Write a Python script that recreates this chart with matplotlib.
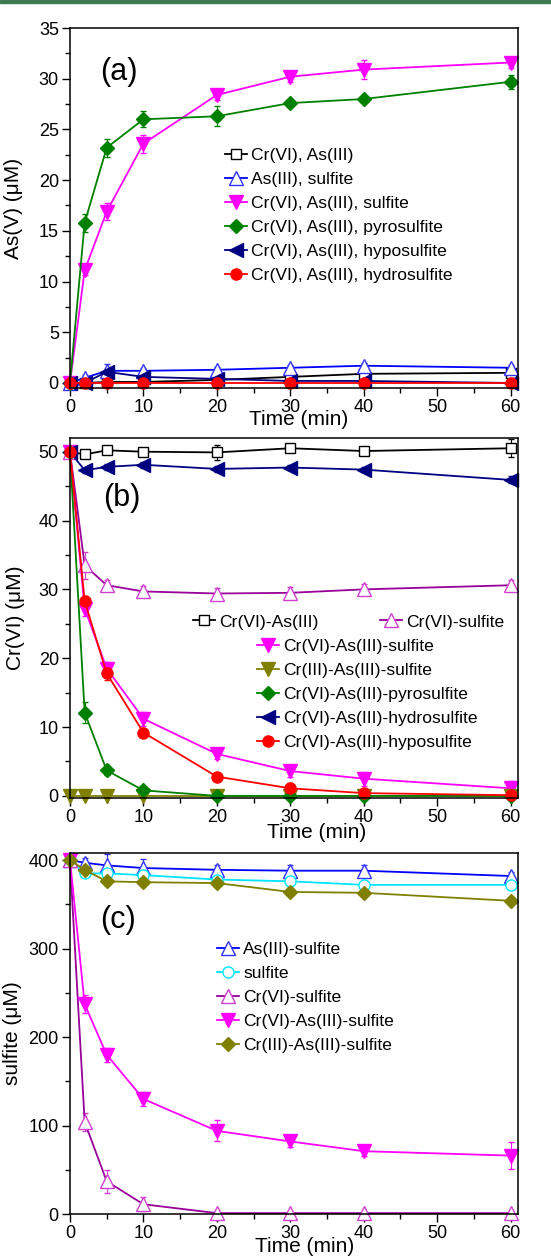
"""
Three stacked panels: As(V), Cr(VI) and sulfite vs time
"""

import numpy as np
import matplotlib.pyplot as plt
from matplotlib.patches import Rectangle
from matplotlib.ticker import MultipleLocator

plt.rcParams['font.family'] = ['Liberation Sans', 'DejaVu Sans']

t = [0, 2, 5, 10, 20, 30, 40, 60]

# panel (a): As(V) (uM)
a_labels = ['Cr(VI), As(III)', 'As(III), sulfite', 'Cr(VI), As(III), sulfite',
            'Cr(VI), As(III), pyrosulfite', 'Cr(VI), As(III), hyposulfite',
            'Cr(VI), As(III), hydrosulfite']
a_vals = [[0, 0, 0.1, 0.1, 0.3, 0.6, 0.9, 1.0],
          [0, 0.5, 1.2, 1.2, 1.3, 1.5, 1.7, 1.5],
          [0, 11.1, 16.9, 23.6, 28.4, 30.2, 30.9, 31.6],
          [0, 15.8, 23.2, 26.0, 26.3, 27.6, 28.0, 29.7],
          [0, 0, 1.1, 0.6, 0.4, 0.2, 0.2, 0.0],
          [0, 0, 0, 0, 0, 0, 0, 0]]
a_errs = [[0, 0.1, 0.2, 0.2, 0.3, 0.3, 0.4, 0.3],
          [0, 0.3, 0.7, 0.3, 0.3, 0.3, 0.3, 0.3],
          [0, 0.5, 0.8, 0.9, 0.5, 0.5, 0.9, 0.5],
          [0, 0.9, 0.9, 0.8, 1.0, 0.4, 0.4, 0.7],
          [0, 0.2, 0.3, 0.2, 0.2, 0.2, 0.2, 0.2],
          [0, 0, 0, 0, 0, 0, 0, 0]]

# panel (b): Cr(VI) (uM)
b_labels = ['Cr(VI)-As(III)', 'Cr(VI)-sulfite', 'Cr(VI)-As(III)-sulfite',
            'Cr(III)-As(III)-sulfite', 'Cr(VI)-As(III)-pyrosulfite',
            'Cr(VI)-As(III)-hydrosulfite', 'Cr(VI)-As(III)-hyposulfite']
b_vals = [[50, 49.6, 50.2, 50.0, 49.9, 50.5, 50.1, 50.5],
          [50, 33.5, 30.6, 29.7, 29.4, 29.5, 30.0, 30.6],
          [50, 27.2, 18.5, 11.2, 6.1, 3.6, 2.5, 1.1],
          [0, 0, 0, 0, 0, 0, 0, 0],
          [50, 12.1, 3.7, 0.8, 0, 0, 0, 0],
          [50, 47.3, 47.8, 48.1, 47.5, 47.7, 47.4, 45.9],
          [50, 28.3, 17.8, 9.2, 2.8, 1.1, 0.4, 0.1]]
b_errs = [[0, 0.5, 0.5, 0.5, 1.1, 0.5, 0.5, 1.3],
          [0, 2.0, 0.7, 0.8, 0.8, 0.8, 0.8, 0.8],
          [0, 1.0, 1.0, 1.0, 0.7, 0.9, 1.0, 1.0],
          [0, 0, 0, 0, 0, 0, 0, 0],
          [0, 1.5, 0.7, 0.5, 0, 0, 0, 0],
          [0, 0.4, 0.4, 0.4, 0.4, 0.4, 0.4, 0.5],
          [0, 0.7, 0.9, 0.5, 0.5, 0.8, 0.3, 0.2]]

# panel (c): sulfite (uM)
c_labels = ['As(III)-sulfite', 'sulfite', 'Cr(VI)-sulfite',
            'Cr(VI)-As(III)-sulfite', 'Cr(III)-As(III)-sulfite']
c_vals = [[400, 397, 394, 391, 389, 388, 388, 382],
          [400, 385, 385, 383, 378, 376, 372, 372],
          [400, 104, 37, 11, 1, 1, 1, 1],
          [400, 237, 180, 130, 94, 82, 71, 66],
          [400, 389, 376, 375, 374, 364, 363, 354]]
c_errs = [[0, 5, 13, 10, 5, 6, 7, 5],
          [0, 4, 5, 6, 5, 5, 5, 5],
          [0, 10, 13, 8, 1, 1, 1, 1],
          [0, 10, 8, 8, 12, 6, 6, 15],
          [0, 4, 4, 4, 4, 4, 4, 4]]

# (line colour, marker, marker face, marker edge, size)
STY = {
    'black_sq': ('k', 's', 'white', 'k', 7.5),
    'blue_tri': ('#0000ff', '^', 'white', '#3333ff', 9.5),
    'mag_down': ('#ff00ff', 'v', '#ff00ff', '#ff00ff', 9.5),
    'green_d': ('#008000', 'D', '#008000', '#008000', 7),
    'navy_l': ('#000080', '<', '#000080', '#000080', 9.5),
    'red_o': ('#ff0000', 'o', '#ff0000', '#ff0000', 8),
    'olive_down': ('#808000', 'v', '#808000', '#808000', 9.5),
    'purple_tri': ('#990099', '^', 'white', '#d040d0', 9.5),
    'cyan_o': ('#00e5ff', 'o', 'white', '#00e5ff', 8),
    'olive_d': ('#808000', 'D', '#808000', '#808000', 7),
}
a_sty = ['black_sq', 'blue_tri', 'mag_down', 'green_d', 'navy_l', 'red_o']
b_sty = ['black_sq', 'purple_tri', 'mag_down', 'olive_down', 'green_d', 'navy_l', 'red_o']
c_sty = ['blue_tri', 'cyan_o', 'purple_tri', 'mag_down', 'olive_d']

FS_TICK = 13
FS_LAB = 15
FS_LEG = 12.6


def draw(ax, vals, errs, styles):
    handles = []
    for v, e, s in zip(vals, errs, styles):
        lc, m, fc, ec, ms = STY[s]
        h = ax.errorbar(t, v, yerr=e, color=lc, marker=m, mfc=fc, mec=ec, ms=ms,
                        lw=1.3, mew=1.0, elinewidth=0.8, capsize=2.5, ecolor=ec,
                        clip_on=False)
        handles.append(h[0])
    return handles


def style(ax, ymin, ymax, major, minor):
    ax.set_xlim(0, 61)
    ax.set_ylim(ymin, ymax)
    ax.xaxis.set_major_locator(MultipleLocator(10))
    ax.xaxis.set_minor_locator(MultipleLocator(5))
    ax.yaxis.set_major_locator(MultipleLocator(major))
    ax.yaxis.set_minor_locator(MultipleLocator(minor))
    ax.tick_params(which='major', direction='out', length=6, width=1,
                   labelsize=FS_TICK, pad=2)
    ax.tick_params(which='minor', direction='out', length=3.5, width=1)
    for sp in ax.spines.values():
        sp.set_linewidth(1.1)


def legend(ax, handles, labels, anchor, **kw):
    opts = dict(loc='upper left', bbox_to_anchor=anchor, frameon=False, fontsize=FS_LEG,
                handlelength=1.25, handletextpad=0.25, labelspacing=0.5,
                borderpad=0, borderaxespad=0)
    opts.update(kw)
    return ax.legend(handles, labels, **opts)


fig = plt.figure(figsize=(5.51, 12.57), dpi=100)
fig.patches.append(Rectangle((0, 0.998), 1, 0.002, transform=fig.transFigure,
                             color='#3b7a4e', zorder=0))

ax1 = fig.add_axes([0.127, 0.6913, 0.813, 0.2864])
ax2 = fig.add_axes([0.127, 0.3652, 0.813, 0.2864])
ax3 = fig.add_axes([0.127, 0.0342, 0.813, 0.2872])

# (a)
ha = draw(ax1, a_vals, a_errs, a_sty)
style(ax1, -0.5, 35, 5, 2.5)
legend(ax1, ha, a_labels, (0.346, 0.667))
ax1.text(0.067, 0.878, '(a)', transform=ax1.transAxes, fontsize=22, va='center')
ax1.set_ylabel('As(V) (μM)', fontsize=FS_LAB)
ax1.yaxis.set_label_coords(-0.105, 0.5)
ax1.set_xlabel('Time (min)', fontsize=FS_LAB)
ax1.xaxis.set_label_coords(0.51, -0.062)

# (b)
hb = draw(ax2, b_vals, b_errs, b_sty)
style(ax2, -0.3, 52, 10, 5)
leg1 = legend(ax2, hb[:2], b_labels[:2], (0.275, 0.51), ncol=2, columnspacing=3.5)
ax2.add_artist(leg1)
legend(ax2, hb[2:], b_labels[2:], (0.417, 0.442))
ax2.text(0.073, 0.833, '(b)', transform=ax2.transAxes, fontsize=22, va='center')
ax2.set_ylabel('Cr(VI) (μM)', fontsize=FS_LAB)
ax2.yaxis.set_label_coords(-0.1, 0.5)
ax2.set_xlabel('Time (min)', fontsize=FS_LAB)
ax2.xaxis.set_label_coords(0.55, -0.07)

# (c)
hc = draw(ax3, c_vals, c_errs, c_sty)
style(ax3, 0, 408, 100, 50)
legend(ax3, hc, c_labels, (0.328, 0.754))
ax3.text(0.067, 0.814, '(c)', transform=ax3.transAxes, fontsize=22, va='center')
ax3.set_ylabel('sulfite (μM)', fontsize=FS_LAB)
ax3.yaxis.set_label_coords(-0.107, 0.5)
ax3.set_xlabel('Time (min)', fontsize=FS_LAB)
ax3.xaxis.set_label_coords(0.523, -0.063)

plt.savefig('out.png', dpi=100)
